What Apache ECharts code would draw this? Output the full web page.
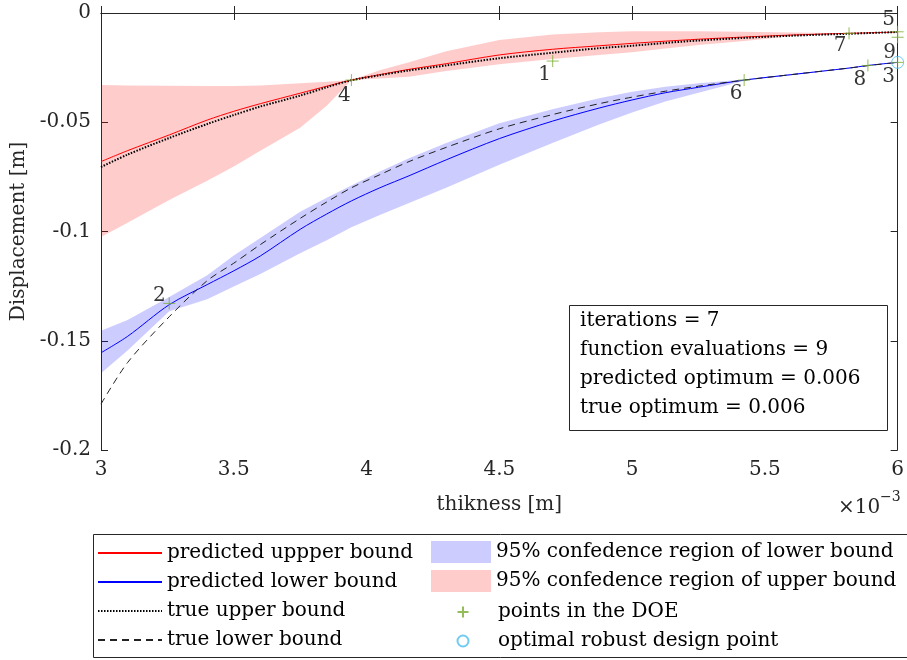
<!DOCTYPE html>
<html>
<head>
<meta charset="utf-8">
<script src="https://cdn.jsdelivr.net/npm/echarts@6/dist/echarts.min.js"></script>
<style>
html,body{margin:0;padding:0;background:#fff;}
#chart{width:907px;height:660px;}
</style>
</head>
<body>
<div id="chart"></div>
<script>
// thickness in units of 1e-3 m (axis shows ×10^-3)
const thickness = [3.0, 3.1, 3.257, 3.4, 3.5, 3.6, 3.75, 3.85, 3.943, 4.05, 4.16, 4.3, 4.5, 4.7, 4.876, 5.0, 5.125, 5.25, 5.422, 5.6, 5.817, 5.888, 6.0];
const predUpper = [-0.0680, -0.0630, -0.0558, -0.0490, -0.0450, -0.0415, -0.0367, -0.0335, -0.0307, -0.0282, -0.0258, -0.0232, -0.0192, -0.0166, -0.0150, -0.0139, -0.0129, -0.0120, -0.0110, -0.0101, -0.0093, -0.0091, -0.0087];
const trueUpper = [-0.0705, -0.0648, -0.0572, -0.0508, -0.0467, -0.0428, -0.0378, -0.0340, -0.0308, -0.0285, -0.0263, -0.0240, -0.0207, -0.0182, -0.0161, -0.0150, -0.0137, -0.0126, -0.0114, -0.0104, -0.0095, -0.0092, -0.0087];
const upperCiHigh = [-0.0330, -0.0332, -0.0333, -0.0334, -0.0334, -0.0332, -0.0322, -0.0315, -0.0307, -0.0262, -0.0225, -0.0175, -0.0124, -0.0098, -0.0088, -0.0084, -0.0083, -0.0084, -0.0086, -0.0089, -0.0093, -0.0091, -0.0087];
const upperCiLow = [-0.1025, -0.0960, -0.0856, -0.0768, -0.0703, -0.0630, -0.0525, -0.0425, -0.0307, -0.0300, -0.0292, -0.0265, -0.0235, -0.0210, -0.0192, -0.0180, -0.0163, -0.0147, -0.0128, -0.0106, -0.0094, -0.0092, -0.0088];
const predLower = [-0.1555, -0.1480, -0.1335, -0.1243, -0.1180, -0.1112, -0.0990, -0.0920, -0.0860, -0.0800, -0.0745, -0.0672, -0.0575, -0.0495, -0.0435, -0.0398, -0.0365, -0.0340, -0.0307, -0.0282, -0.0252, -0.0240, -0.0226];
const trueLower = [-0.1790, -0.1600, -0.1390, -0.1225, -0.1145, -0.1060, -0.0940, -0.0865, -0.0800, -0.0740, -0.0680, -0.0615, -0.0530, -0.0465, -0.0415, -0.0385, -0.0358, -0.0335, -0.0307, -0.0282, -0.0252, -0.0241, -0.0226];
const lowerCiHigh = [-0.1454, -0.1405, -0.1300, -0.1200, -0.1110, -0.1030, -0.0910, -0.0845, -0.0790, -0.0725, -0.0665, -0.0595, -0.0505, -0.0440, -0.0390, -0.0360, -0.0338, -0.0322, -0.0304, -0.0279, -0.0250, -0.0239, -0.0225];
const lowerCiLow = [-0.1649, -0.1545, -0.1365, -0.1310, -0.1252, -0.1195, -0.1100, -0.1040, -0.0980, -0.0925, -0.0870, -0.0800, -0.0695, -0.0595, -0.0510, -0.0455, -0.0405, -0.0365, -0.0310, -0.0285, -0.0254, -0.0241, -0.0227];

const doeLabels = ['1', '2', '3', '4', '5', '6', '7', '8', '9'];
const doeX = [4.701, 3.257, 6.0, 3.943, 6.0, 5.422, 5.817, 5.888, 6.0];
const doeY = [-0.0220, -0.1329, -0.0226, -0.0307, -0.0086, -0.0307, -0.0093, -0.0240, -0.0111];
const optX = [6.0];
const optY = [-0.0226];

const xTicks = [3, 3.5, 4, 4.5, 5, 5.5, 6];
const yTicks = [-0.2, -0.15, -0.1, -0.05, 0];

const infoLines = ['iterations = 7', 'function evaluations = 9', 'predicted optimum = 0.006', 'true optimum = 0.006'];
</script>
<script>
const FONT = '"DejaVu Serif", "Liberation Serif", serif';
const AX = '#262626';
const labelOffsets = {
  '1': [-8, 14], '2': [-10, -8], '3': [-9, 14], '4': [-7, 16], '5': [-9, -12],
  '6': [-8, 14], '7': [-9, 12], '8': [-8, 14], '9': [-8, 16]
};

function pairs(xs, ys) { return xs.map((x, i) => [x, ys[i]]); }

function bandSeries(name, hi, lo, color) {
  return {
    name: name,
    type: 'custom',
    coordinateSystem: 'cartesian2d',
    itemStyle: { color: color },
    data: thickness.map((x, i) => [x, hi[i], lo[i]]),
    encode: { x: 0, y: [1, 2] },
    silent: true,
    z: 1,
    renderItem: function (params, api) {
      if (params.dataIndex !== 0) return null;
      const pts = [];
      for (let i = 0; i < thickness.length; i++) pts.push(api.coord([thickness[i], hi[i]]));
      for (let i = thickness.length - 1; i >= 0; i--) pts.push(api.coord([thickness[i], lo[i]]));
      return { type: 'polygon', shape: { points: pts, smooth: 0 }, style: { fill: color, stroke: null } };
    }
  };
}

const chart = echarts.init(document.getElementById('chart'), null, { renderer: 'canvas' });

const axisCommon = {
  axisLine: { show: true, lineStyle: { color: AX, width: 1 } },
  axisTick: { show: true, inside: true, length: 7, lineStyle: { color: AX } },
  splitLine: { show: false }
};
const legendText = { fontFamily: FONT, fontSize: 20, color: '#000', lineHeight: 22 };

const option = {
  backgroundColor: '#ffffff',
  animation: false,
  textStyle: { fontFamily: FONT },
  grid: { left: 101, right: 7, top: 13, bottom: 210, containLabel: false },
  xAxis: [
    Object.assign({
      type: 'value', min: 3, max: 6, interval: 0.5, position: 'bottom',
      name: 'thikness [m]', nameLocation: 'middle', nameGap: 45,
      nameTextStyle: { fontFamily: FONT, fontSize: 20, color: '#262626' },
      axisLabel: { margin: 10, fontFamily: FONT, fontSize: 20, color: '#262626',
        formatter: v => (xTicks.indexOf(Math.round(v * 10) / 10) >= 0 ? String(Math.round(v * 10) / 10) : '') }
    }, axisCommon),
    Object.assign({
      type: 'value', min: 3, max: 6, interval: 0.5, position: 'top',
      axisLabel: { show: false }
    }, axisCommon)
  ],
  yAxis: [
    Object.assign({
      type: 'value', min: -0.2, max: 0, interval: 0.05, position: 'left',
      name: 'Displacement [m]', nameLocation: 'middle', nameGap: 65,
      nameTextStyle: { fontFamily: FONT, fontSize: 20, color: '#262626' },
      axisLabel: { margin: 10, fontFamily: FONT, fontSize: 20, color: '#262626',
        formatter: v => { const r = Math.round(v * 100) / 100; return yTicks.indexOf(r) >= 0 ? (r === 0 ? '0' : String(r)) : ''; } }
    }, axisCommon),
    Object.assign({
      type: 'value', min: -0.2, max: 0, interval: 0.05, position: 'right',
      axisLabel: { show: false }
    }, axisCommon)
  ],
  legend: [
    {
      selectedMode: false, orient: 'vertical', left: 97, top: 542, padding: 0,
      itemWidth: 64, itemHeight: 14, itemGap: 7,
      itemStyle: { opacity: 0 },
      textStyle: legendText,
      data: ['predicted uppper bound', 'predicted lower bound', 'true upper bound', 'true lower bound']
    },
    {
      selectedMode: false, orient: 'vertical', left: 431, top: 541, padding: 0,
      itemWidth: 60, itemHeight: 22, itemGap: 7,
      textStyle: legendText,
      data: [{ name: '95% confedence region of lower bound', icon: 'rect' },
             { name: '95% confedence region of upper bound', icon: 'rect' }]
    },
    {
      selectedMode: false, orient: 'vertical', left: 455, top: 601, padding: 0,
      itemWidth: 60, itemHeight: 11, itemGap: 7,
      textStyle: legendText,
      data: ['points in the DOE', 'optimal robust design point']
    }
  ],
  graphic: [
    { type: 'rect', left: 91, top: 532, shape: { width: 815, height: 123 },
      style: { fill: 'none', stroke: AX, lineWidth: 1 }, z: 0 },
    { type: 'rect', left: 569, top: 305, shape: { width: 318, height: 125 },
      style: { fill: '#fff', stroke: AX, lineWidth: 1 }, z: 10 },
    { type: 'text', left: 580, top: 306, z: 11,
      style: { text: infoLines.join('\n'), fontFamily: FONT, fontSize: 20, lineHeight: 29, fill: '#000' } },
    { type: 'text', left: 838, top: 498, z: 11,
      style: { text: '×10', fontFamily: FONT, fontSize: 20, fill: '#262626' } },
    { type: 'text', left: 880, top: 490, z: 11,
      style: { text: '−3', fontFamily: FONT, fontSize: 14, fill: '#262626' } }
  ],
  series: [
    bandSeries('95% confedence region of upper bound', upperCiHigh, upperCiLow, 'rgba(255,0,0,0.2)'),
    bandSeries('95% confedence region of lower bound', lowerCiHigh, lowerCiLow, 'rgba(0,0,255,0.2)'),
    { name: 'predicted uppper bound', type: 'line', data: pairs(thickness, predUpper), smooth: 0.3,
      showSymbol: false, symbol: 'none', lineStyle: { color: '#ff0000', width: 1 }, itemStyle: { color: '#ff0000' }, z: 3 },
    { name: 'predicted lower bound', type: 'line', data: pairs(thickness, predLower), smooth: 0.3,
      showSymbol: false, symbol: 'none', lineStyle: { color: '#0000ff', width: 1 }, itemStyle: { color: '#0000ff' }, z: 3 },
    { name: 'true upper bound', type: 'line', data: pairs(thickness, trueUpper), smooth: 0.3,
      showSymbol: false, symbol: 'none', lineStyle: { color: '#000', width: 2, type: [1.5, 1.5] }, itemStyle: { color: '#000' }, z: 4 },
    { name: 'true lower bound', type: 'line', data: pairs(thickness, trueLower), smooth: 0.3,
      showSymbol: false, symbol: 'none', lineStyle: { color: '#222', width: 1, type: [7, 5] }, itemStyle: { color: '#222' }, z: 4 },
    { name: 'points in the DOE', type: 'scatter', clip: false, z: 5,
      symbol: 'path://M5,0 L5,10 M0,5 L10,5', symbolSize: 12,
      itemStyle: { color: 'none', borderColor: '#77AC30', borderWidth: 1 },
      data: doeX.map((x, i) => ({ name: doeLabels[i], value: [x, doeY[i]],
        label: { show: true, position: 'inside', offset: labelOffsets[doeLabels[i]],
          formatter: doeLabels[i], fontFamily: FONT, fontSize: 20, color: '#000' } }))
    },
    { name: 'optimal robust design point', type: 'scatter', clip: false, z: 5,
      symbol: 'circle', symbolSize: 12,
      itemStyle: { color: 'none', borderColor: '#4DBEEE', borderWidth: 1 },
      data: pairs(optX, optY)
    }
  ]
};
chart.setOption(option);
</script>
</body>
</html>
